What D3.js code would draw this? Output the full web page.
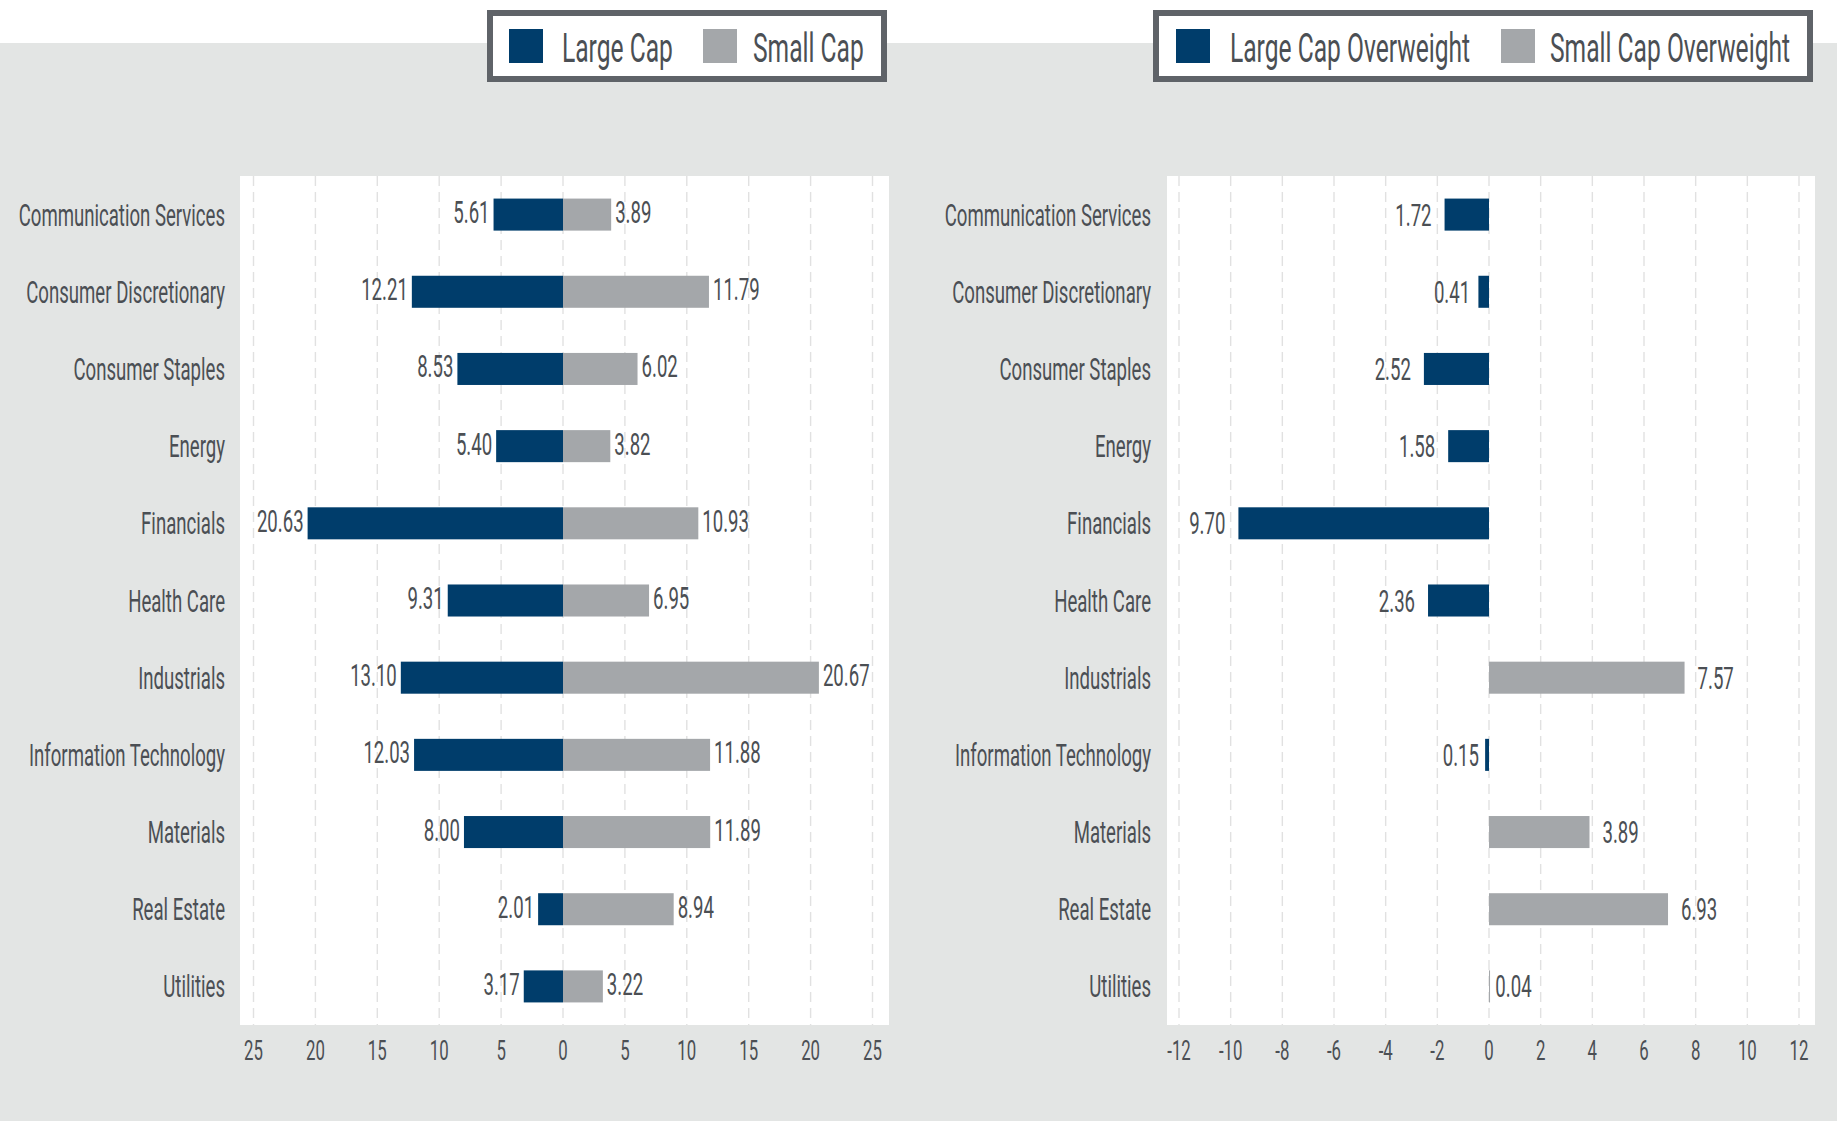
<!DOCTYPE html>
<html>
<head>
    <title>Large Cap vs Small Cap sector weights</title>
    <script src="https://cdn.jsdelivr.net/npm/d3@7"></script>
    <style>
        body { margin: 0; background: #fff; }
        svg text { font-family: Roboto, "Open Sans", sans-serif; fill: #4b4f54; }
    </style>
</head>
<body>
    <svg id="chart" width="1837" height="1121"></svg>

    <script>
        // sector weights
        const categories = [
            "Communication Services", "Consumer Discretionary", "Consumer Staples", "Energy",
            "Financials", "Health Care", "Industrials", "Information Technology",
            "Materials", "Real Estate", "Utilities"
        ];
        const largeCap = [5.61, 12.21, 8.53, 5.40, 20.63, 9.31, 13.10, 12.03, 8.00, 2.01, 3.17];
        const smallCap = [3.89, 11.79, 6.02, 3.82, 10.93, 6.95, 20.67, 11.88, 11.89, 8.94, 3.22];
        // negative = large cap overweight, positive = small cap overweight
        const overweight = [-1.72, -0.41, -2.52, -1.58, -9.70, -2.36, 7.57, -0.15, 3.89, 6.93, 0.04];

        const leftTicks = [-25, -20, -15, -10, -5, 0, 5, 10, 15, 20, 25];
        const rightTicks = [-12, -10, -8, -6, -4, -2, 0, 2, 4, 6, 8, 10, 12];
        const leftLegend = ["Large Cap", "Small Cap"];
        const rightLegend = ["Large Cap Overweight", "Small Cap Overweight"];

        const NAVY = "#003d6b", GREY = "#a4a7aa";
        const SX = 0.6;   // horizontal squeeze to mimic the condensed face

        const svg = d3.select("#chart");

        // grey page band
        svg.append("rect").attr("x", 0).attr("y", 43).attr("width", 1837).attr("height", 1078)
            .attr("fill", "#e3e5e4");

        function label(g, x, y, txt, size, anchor) {
            return g.append("text")
                .attr("transform", `translate(${x},${y}) scale(${SX},1)`)
                .attr("text-anchor", anchor)
                .attr("font-size", size)
                .text(txt);
        }

        const y = d3.scaleBand().domain(categories).range([176, 1025])
            .paddingInner(0.585).paddingOuter(0.2925);

        function panel(opt) {
            const g = svg.append("g");
            const x = d3.scaleLinear().domain(opt.domain).range(opt.range);

            g.append("rect").attr("x", opt.plot[0]).attr("y", 176)
                .attr("width", opt.plot[1] - opt.plot[0]).attr("height", 1025 - 176)
                .attr("fill", "#fff");

            g.selectAll(".grid").data(opt.ticks).enter().append("line")
                .attr("x1", d => x(d)).attr("x2", d => x(d))
                .attr("y1", 176).attr("y2", 1025)
                .attr("stroke", "#e1e1e1").attr("stroke-width", 1.4)
                .attr("stroke-dasharray", "10,6");

            opt.ticks.forEach(t => label(g, x(t), 1059.5, opt.tickFmt(t), 28, "middle"));

            categories.forEach(c => label(g, opt.catX, y(c) + y.bandwidth() / 2 + 11, c, 31, "end"));

            // legend
            const lg = svg.append("g");
            lg.append("rect").attr("x", opt.legend.x + 3).attr("y", 13)
                .attr("width", opt.legend.w - 6).attr("height", 66)
                .attr("fill", "#fff").attr("stroke", "#5f6368").attr("stroke-width", 6);
            opt.legend.items.forEach((it, i) => {
                lg.append("rect").attr("x", it.sw).attr("y", 29).attr("width", 34).attr("height", 34)
                    .attr("fill", i === 0 ? NAVY : GREY);
                label(lg, it.tx, 62, opt.legend.names[i], 41, "start");
            });
            return { g, x };
        }

        // left: large cap vs small cap weights
        const L = panel({
            domain: [-25, 25], range: [253.5, 872.5], plot: [240, 889], ticks: leftTicks,
            tickFmt: t => Math.abs(t), catX: 225,
            legend: { x: 487, w: 400, names: leftLegend, items: [{ sw: 509, tx: 562 }, { sw: 703, tx: 753 }] }
        });
        categories.forEach((c, i) => {
            const cy = y(c), h = y.bandwidth(), mid = cy + h / 2;
            L.g.append("rect").attr("x", L.x(-largeCap[i])).attr("y", cy)
                .attr("width", L.x(0) - L.x(-largeCap[i])).attr("height", h).attr("fill", NAVY);
            L.g.append("rect").attr("x", L.x(0)).attr("y", cy)
                .attr("width", L.x(smallCap[i]) - L.x(0)).attr("height", h).attr("fill", GREY);
            label(L.g, L.x(-largeCap[i]) - 4, mid + 8.5, largeCap[i].toFixed(2), 31, "end");
            label(L.g, L.x(smallCap[i]) + 4, mid + 8.5, smallCap[i].toFixed(2), 31, "start");
        });

        // right: overweight
        const R = panel({
            domain: [-12, 12], range: [1179, 1799], plot: [1167, 1815], ticks: rightTicks,
            tickFmt: t => t, catX: 1151,
            legend: { x: 1153, w: 660, names: rightLegend, items: [{ sw: 1176, tx: 1230 }, { sw: 1501, tx: 1550 }] }
        });
        categories.forEach((c, i) => {
            const v = overweight[i], cy = y(c), h = y.bandwidth(), mid = cy + h / 2;
            const x0 = Math.min(R.x(0), R.x(v)), x1 = Math.max(R.x(0), R.x(v));
            R.g.append("rect").attr("x", x0).attr("y", cy).attr("width", x1 - x0).attr("height", h)
                .attr("fill", v < 0 ? NAVY : GREY);
            const gap = Math.min(13, 5 + 8 * Math.abs(v));
            if (v < 0) label(R.g, x0 - gap, mid + 11, Math.abs(v).toFixed(2), 31, "end");
            else label(R.g, x1 + gap, mid + 11, v.toFixed(2), 31, "start");
        });
    </script>
</body>
</html>
